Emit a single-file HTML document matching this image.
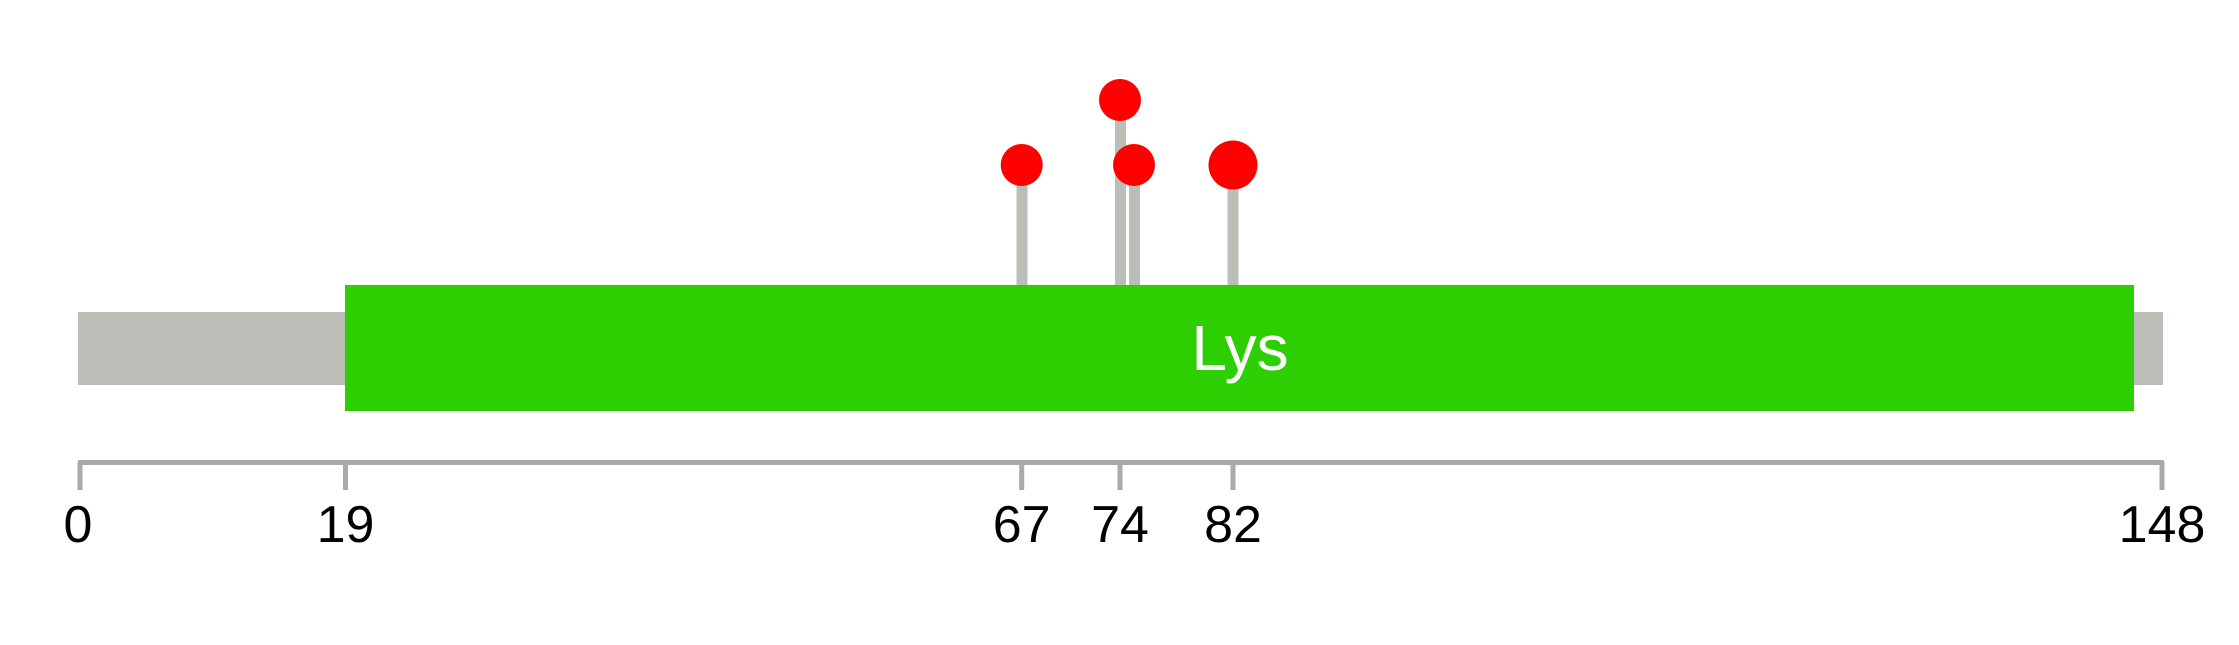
<!DOCTYPE html>
<html><head><style>body{margin:0;background:#fff}svg{display:block}</style></head><body>
<svg width="2239" height="645" xmlns="http://www.w3.org/2000/svg" font-family="Liberation Sans, Arial, sans-serif">
<rect x="78" y="312" width="2085" height="73" fill="#bbbdb6"/>
<g fill="#bbbdb6">
<rect x="1016.5" y="170" width="11" height="116"/>
<rect x="1115" y="100" width="11" height="186"/>
<rect x="1129" y="170" width="11" height="116"/>
<rect x="1227.5" y="170" width="11" height="116"/>
</g>
<rect x="345" y="285" width="1789" height="126" fill="#2ecf02"/>
<text x="1240" y="370" font-size="64" fill="#fff" text-anchor="middle">Lys</text>
<g fill="#ff0000">
<circle cx="1021.7" cy="165" r="21"/>
<circle cx="1120" cy="100" r="21"/>
<circle cx="1134" cy="165" r="21"/>
<circle cx="1233" cy="165" r="24.5"/>
</g>
<rect x="78" y="460" width="2086" height="5" fill="#aaaaaa"/>
<g stroke="#aaaaaa" stroke-width="5">
<line x1="80" y1="462" x2="80" y2="490"/>
<line x1="345.5" y1="462" x2="345.5" y2="490"/>
<line x1="1021.7" y1="462" x2="1021.7" y2="490"/>
<line x1="1120" y1="462" x2="1120" y2="490"/>
<line x1="1233" y1="462" x2="1233" y2="490"/>
<line x1="2162" y1="462" x2="2162" y2="490"/>
</g>
<g font-size="52" fill="#000" text-anchor="middle">
<text x="78" y="542">0</text>
<text x="345.5" y="542">19</text>
<text x="1021.7" y="542">67</text>
<text x="1120" y="542">74</text>
<text x="1233" y="542">82</text>
<text x="2162" y="542">148</text>
</g>
</svg>
</body></html>
